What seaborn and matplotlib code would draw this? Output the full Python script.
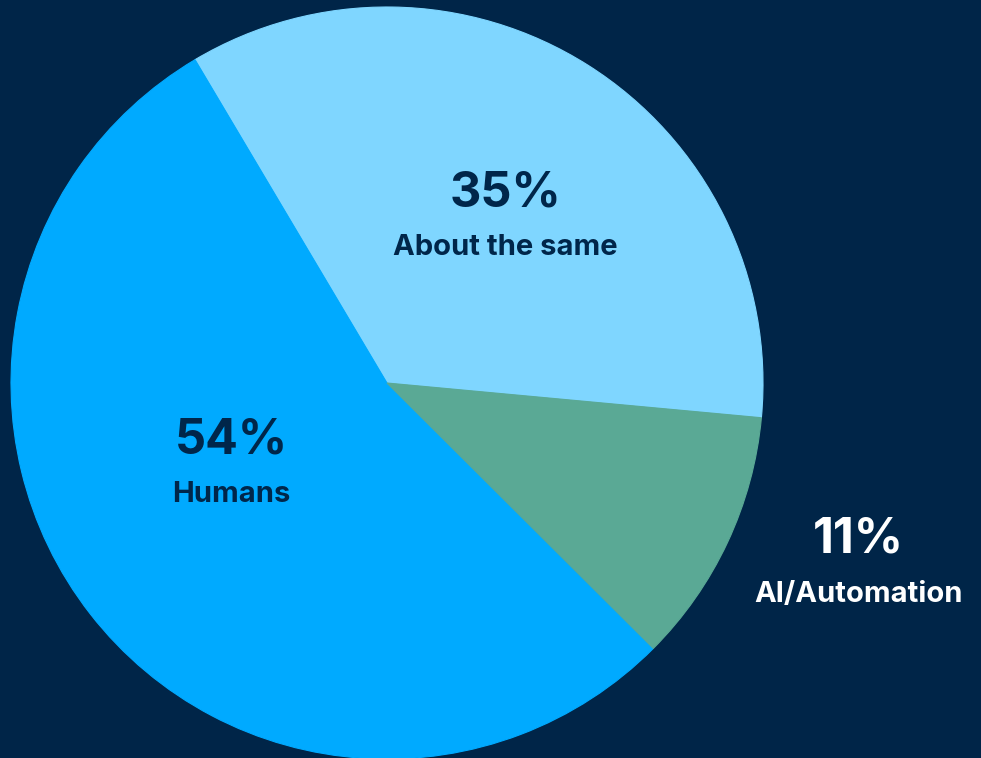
import matplotlib
matplotlib.use("Agg")
import matplotlib.pyplot as plt
import seaborn as sns

sns.set_theme(style="white")
plt.rcParams["font.family"] = ["Inter", "DejaVu Sans"]

# Survey responses
categories = ["About the same", "Humans", "AI/Automation"]
shares = [35, 54, 11]
colors = ["#7fd6ff", "#00aaff", "#5aa995"]
label_colors = ["#00264a", "#00264a", "#ffffff"]
# label anchor points (axes fraction) for each category
label_pos = [(0.515, 0.709), (0.236, 0.383), (0.875, 0.252)]

BG = "#002548"
W, H = 981, 758
fig = plt.figure(figsize=(W / 100, H / 100), dpi=100, facecolor=BG)
ax = fig.add_axes([0, 0, 1, 1])
ax.set_facecolor(BG)

wedges, _ = ax.pie(shares, colors=colors, startangle=-5.3, counterclock=True,
                   radius=1.0, center=(0, 0))
# fill the hairline seams between slices
for w, c in zip(wedges, colors):
    w.set_edgecolor(c)
    w.set_linewidth(0.8)

# place the unit-radius pie: centre at (387, 383) px, radius 376 px
R, cx, cy = 376.0, 387.0, 383.0
ax.set_xlim(-cx / R, (W - cx) / R)
ax.set_ylim(-(H - cy) / R, cy / R)
ax.set_aspect("auto")
ax.axis("off")

for name, val, (x, y), tc in zip(categories, shares, label_pos, label_colors):
    ax.text(x, y + 0.036, f"{val}%", transform=ax.transAxes, ha="center",
            va="center", fontsize=35, fontweight="bold", color=tc)
    ax.text(x, y - 0.036, name, transform=ax.transAxes, ha="center",
            va="center", fontsize=21, fontweight="bold", color=tc)

fig.savefig("out.png", dpi=100, facecolor=BG)
